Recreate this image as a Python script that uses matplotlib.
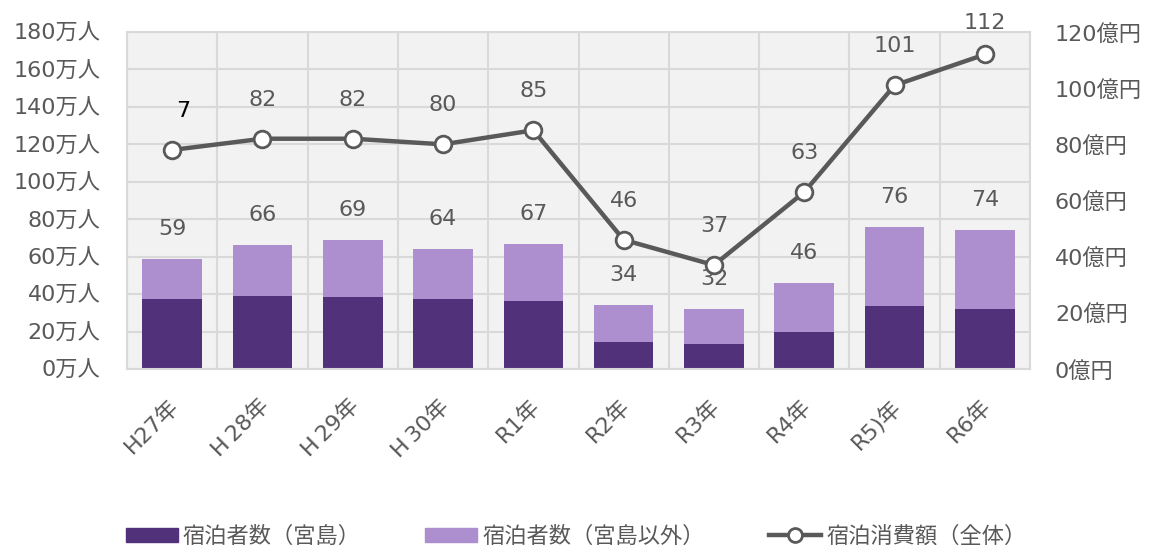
import matplotlib
matplotlib.use("Agg")
import matplotlib.pyplot as plt
import numpy as np
from matplotlib.patches import Patch
from matplotlib.lines import Line2D
from matplotlib.transforms import ScaledTranslation

plt.rcParams['font.family'] = ['DejaVu Sans', 'Noto Sans CJK JP']

categories = ['H27年', 'H\u200928年', 'H\u200929年', 'H\u200930年', 'R1年', 'R2年', 'R3年', 'R4年', 'R5)年', 'R6年']
miyajima = [37.4, 39.0, 38.6, 37.6, 36.3, 14.6, 13.2, 19.8, 33.8, 31.9]
total = [59, 66, 69, 64, 67, 34, 32, 46, 76, 74]
others = [t - m for t, m in zip(total, miyajima)]
spending = [78, 82, 82, 80, 85, 46, 37, 63, 101, 112]
spending_labels = ['7', '82', '82', '80', '85', '46', '37', '63', '101', '112']
left_ticks = [0, 20, 40, 60, 80, 100, 120, 140, 160, 180]
left_ticklabels = [f'{v}万人' for v in left_ticks]
right_ticks = [0, 20, 40, 60, 80, 100, 120]
right_ticklabels = [f'{v}億円' for v in right_ticks]

DARK = '#51317A'
LIGHT = '#AD8ECF'
LINE = '#595959'
TXT = '#595959'
GRID = '#D9D9D9'
FS = 16

fig = plt.figure(figsize=(11.49, 5.45), dpi=100)
ax = fig.add_axes([127/1149, 1-369/545, (1030-127)/1149, (369-32)/545])
ax.set_facecolor('#F2F2F2')
x = np.arange(len(categories))

ax.bar(x, miyajima, width=0.66, color=DARK, zorder=2)
ax.bar(x, others, bottom=miyajima, width=0.66, color=LIGHT, zorder=2)
ax.set_ylim(0, 180)
ax.set_xlim(-0.5, len(categories) - 0.5)
ax.set_yticks(left_ticks)
ax.set_yticklabels(left_ticklabels, fontsize=FS, color=TXT)
ax.tick_params(axis='y', length=0, pad=19)
ax.set_xticks(x)
ax.set_xticks(np.arange(-0.5, len(categories)), minor=True)
ax.grid(True, which='minor', axis='x', color=GRID, lw=1.5, zorder=0)
ax.grid(True, which='major', axis='y', color=GRID, lw=1.5, zorder=0)
ax.tick_params(axis='x', which='both', length=0)
ax.set_xticklabels(categories, fontsize=FS, color=TXT, rotation=45, ha='right', va='center',
                   rotation_mode='anchor')
for lab in ax.get_xticklabels():
    lab.set_transform(lab.get_transform() + ScaledTranslation(3/100, -29/100, fig.dpi_scale_trans))
for s in ax.spines.values():
    s.set_color(GRID)
    s.set_linewidth(1.5)

for xi, t in zip(x, total):
    ax.annotate(str(t), (xi, t), xytext=(0, 30*0.72), textcoords='offset points',
                ha='center', va='center', fontsize=FS, color=TXT, zorder=5)

ax2 = ax.twinx()
ax2.set_ylim(0, 120)
ax2.set_yticks(right_ticks)
ax2.set_yticklabels(right_ticklabels, fontsize=FS, color=TXT)
ax2.tick_params(axis='y', length=0, pad=18)
for s in ax2.spines.values():
    s.set_visible(False)
ax2.plot(x, spending, color=LINE, lw=3.2, marker='o', ms=12, mfc='white', mec=LINE, mew=2, zorder=4)

label_dx = [11] + [0]*9
label_dy = [39]*9 + [31]
label_colors = ['black'] + [TXT]*9
for xi, v, lbl, dx, dy, c in zip(x, spending, spending_labels, label_dx, label_dy, label_colors):
    ax2.annotate(lbl, (xi, v), xytext=(dx*0.72, dy*0.72), textcoords='offset points',
                 ha='center', va='center', fontsize=FS, color=c, zorder=5, annotation_clip=False)

handles = [Patch(color=DARK), Patch(color=LIGHT),
           Line2D([0], [0], color=LINE, lw=3.2, marker='o', ms=10, mfc='white', mec=LINE, mew=2)]
labels = ['宿泊者数（宮島）', '宿泊者数（宮島以外）', '宿泊消費額（全体）']
fig.legend(handles, labels, loc='center', bbox_to_anchor=(576/1149, 1-536/545), ncol=3, frameon=False,
           fontsize=FS, labelcolor=TXT, handlelength=2.35, handleheight=0.6, handletextpad=0.22,
           columnspacing=2.9)

fig.savefig('out.png', dpi=100)
